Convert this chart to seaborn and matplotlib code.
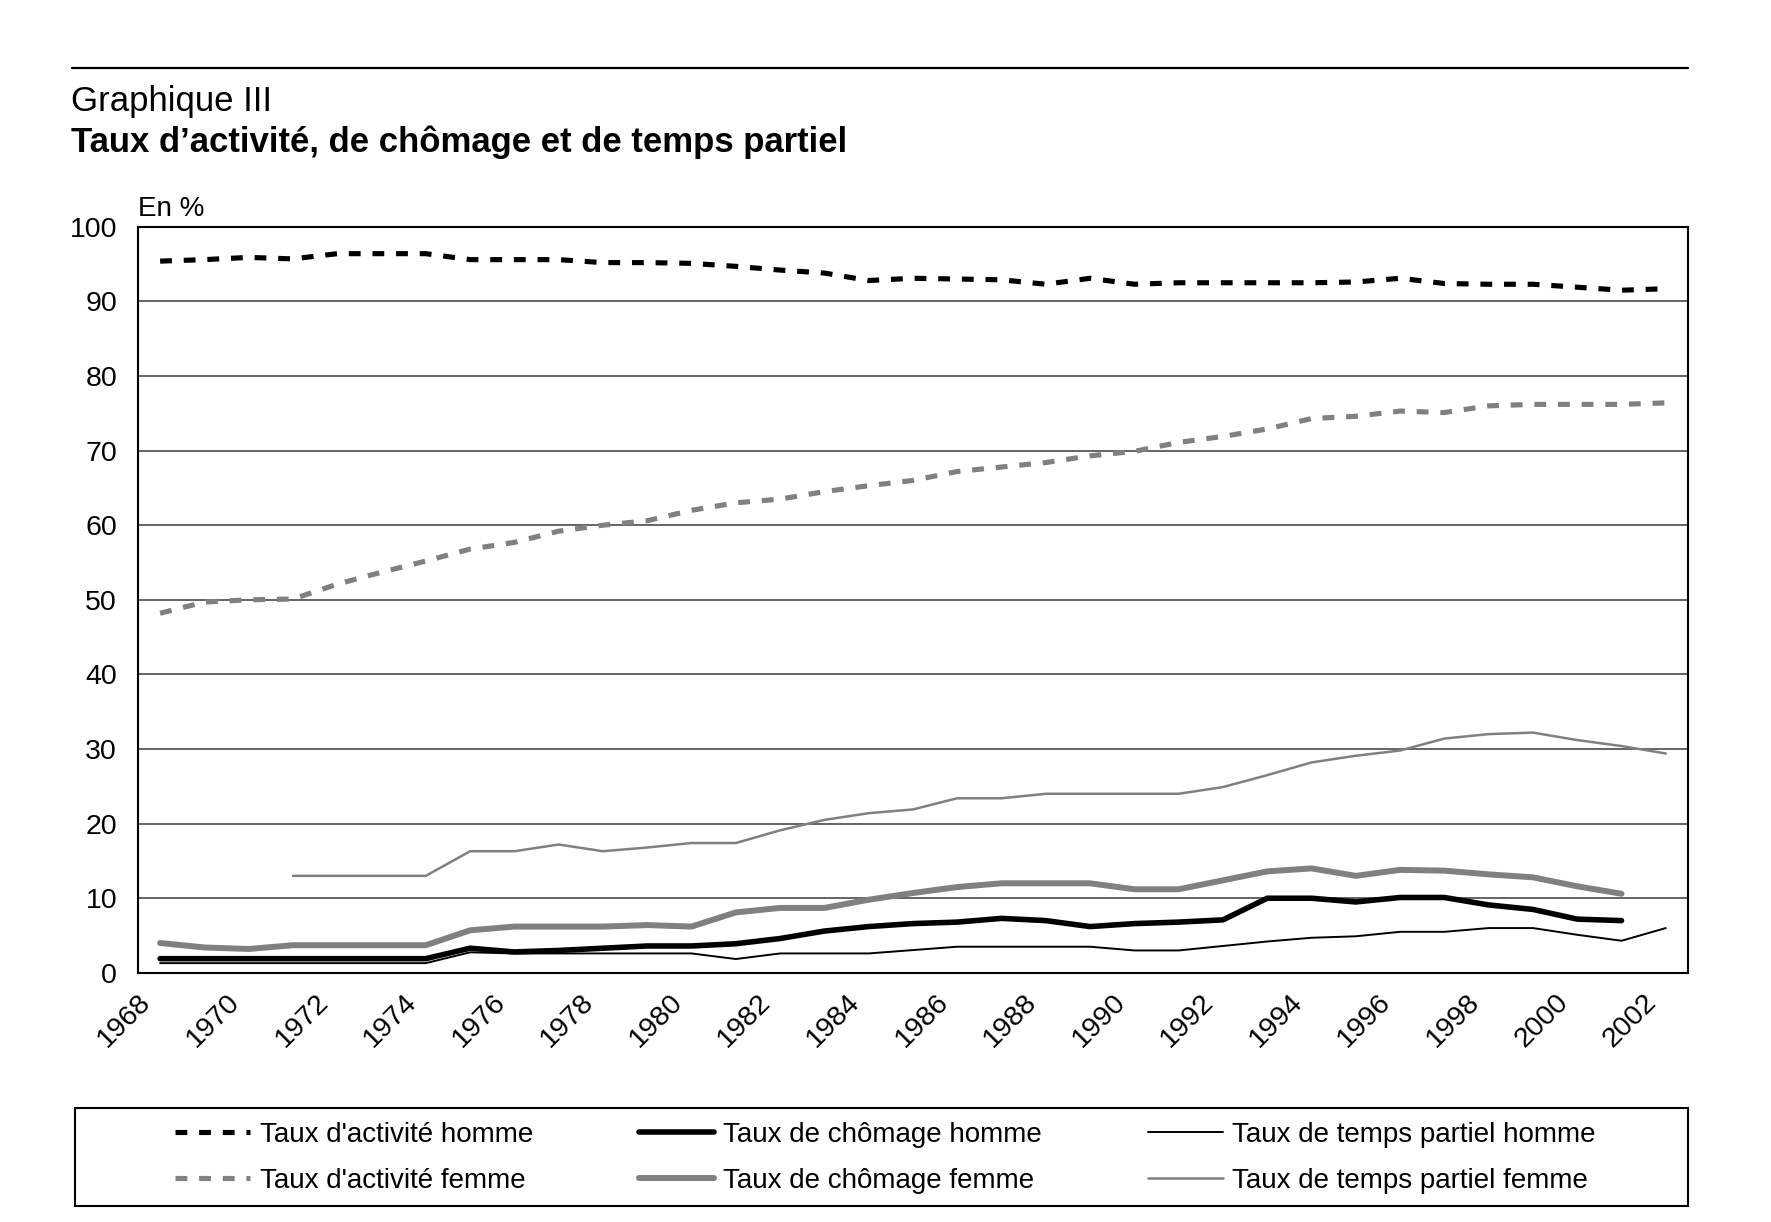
import numpy as np
import pandas as pd
import seaborn as sns
import matplotlib.pyplot as plt
from matplotlib.lines import Line2D
from matplotlib.patches import Rectangle

# %%
# values (one point per year, NaN = no data)
years = list(range(1968, 2003))

act_homme = [95.4, 95.6, 95.9, 95.7, 96.4, 96.4, 96.4, 95.6, 95.6, 95.6,
             95.2, 95.2, 95.1, 94.7, 94.2, 93.8, 92.8, 93.1, 93.0, 92.9,
             92.3, 93.1, 92.3, 92.5, 92.5, 92.5, 92.5, 92.6, 93.1, 92.4,
             92.3, 92.3, 91.9, 91.5, 91.7]
act_femme = [48.2, 49.7, 50.0, 50.1, 52.1, 53.7, 55.2, 56.8, 57.7, 59.2,
             60.0, 60.6, 62.0, 63.0, 63.5, 64.5, 65.3, 66.0, 67.2, 67.8,
             68.4, 69.3, 69.9, 71.1, 71.9, 72.9, 74.3, 74.6, 75.3, 75.1,
             76.0, 76.2, 76.2, 76.2, 76.4]
cho_homme = [1.9, 1.9, 1.9, 1.9, 1.9, 1.9, 1.9, 3.3, 2.8, 3.0,
             3.3, 3.6, 3.6, 3.9, 4.6, 5.6, 6.2, 6.6, 6.8, 7.3,
             7.0, 6.2, 6.6, 6.8, 7.1, 10.0, 10.0, 9.5, 10.1, 10.1,
             9.1, 8.5, 7.2, 7.0, np.nan]
cho_femme = [4.0, 3.4, 3.2, 3.7, 3.7, 3.7, 3.7, 5.7, 6.2, 6.2,
             6.2, 6.4, 6.2, 8.1, 8.7, 8.7, 9.8, 10.7, 11.5, 12.0,
             12.0, 12.0, 11.2, 11.2, 12.4, 13.6, 14.0, 13.0, 13.8, 13.7,
             13.2, 12.8, 11.6, 10.6, np.nan]
tp_homme = [1.3, 1.3, 1.3, 1.3, 1.3, 1.3, 1.3, 2.75, 2.6, 2.6,
            2.6, 2.6, 2.6, 1.85, 2.6, 2.6, 2.6, 3.05, 3.5, 3.5,
            3.5, 3.5, 3.0, 3.0, 3.6, 4.2, 4.7, 4.9, 5.5, 5.5,
            6.0, 6.0, 5.1, 4.3, 6.0]
tp_femme = [np.nan, np.nan, np.nan, 13.0, 13.0, 13.0, 13.0, 16.3, 16.3, 17.2,
            16.3, 16.8, 17.4, 17.4, 19.1, 20.5, 21.4, 21.9, 23.4, 23.4,
            24.0, 24.0, 24.0, 24.0, 24.9, 26.5, 28.2, 29.1, 29.8, 31.4,
            32.0, 32.2, 31.2, 30.4, 29.4]

labels = ["Taux d'activité homme", "Taux d'activité femme",
          "Taux de chômage homme", "Taux de chômage femme",
          "Taux de temps partiel homme", "Taux de temps partiel femme"]

# %%
sns.set_theme(style="white")
plt.rcParams["font.family"] = ["Liberation Sans", "DejaVu Sans"]
plt.rcParams.update({"text.color": "black", "axes.labelcolor": "black",
                     "xtick.color": "black", "ytick.color": "black"})

GRAY = "#808080"
dash = (0, (2.3, 2.3))
styles = [
    dict(color="black", lw=3.7, linestyle=dash),
    dict(color=GRAY, lw=3.7, linestyle=dash),
    dict(color="black", lw=4.0),
    dict(color=GRAY, lw=4.3),
    dict(color="black", lw=1.4),
    dict(color=GRAY, lw=1.8),
]
series = [act_homme, act_femme, cho_homme, cho_femme, tp_homme, tp_femme]

fig = plt.figure(figsize=(17.71, 12.22), dpi=100)
ax = fig.add_axes([0.0779, 0.2039, 0.8752, 0.6105])

# points sit in the middle of each year slot, like the original category axis
x = np.array(years) + 0.5
for vals, lab, st in zip(series, labels, styles):
    sns.lineplot(x=x, y=vals, ax=ax, label=lab, **st)

if ax.get_legend():
    ax.get_legend().remove()

ax.set_xlim(1968, 2003)
ax.set_ylim(0, 100)
ax.set_yticks(range(0, 101, 10))
ax.yaxis.grid(True, color="#3a3a3a", lw=1.1)
ax.set_axisbelow(True)
for sp in ax.spines.values():
    sp.set_color("black")
    sp.set_linewidth(1.5)

ax.set_xticks(range(1968, 2004))
ax.set_xticklabels([str(y) if y % 2 == 0 and y < 2003 else "" for y in range(1968, 2004)],
                   rotation=45, ha="right", va="top", rotation_mode="anchor")
ax.tick_params(axis="both", direction="out", length=6, width=1.3, color="black",
               labelsize=20.5, labelcolor="black")
ax.tick_params(axis="y", pad=9)
ax.tick_params(axis="x", pad=6)
ax.set_xlabel("")
ax.set_ylabel("")

# titles and unit
right = 0.0779 + 0.8752
fig.add_artist(Line2D([0.0407, right], [0.9444, 0.9444], color="black", lw=1.6))
fig.text(0.0400, 0.9092, "Graphique III", fontsize=25, va="baseline", ha="left")
fig.text(0.0400, 0.8756, "Taux d\u2019activité, de chômage et de temps partiel",
         fontsize=25, fontweight="bold", va="baseline", ha="left")
fig.text(0.0779, 0.8236, "En %", fontsize=20, va="baseline", ha="left")

# legend in a framed box below the plot
handles, labs = ax.get_legend_handles_labels()
fig.legend(handles, labs, ncol=3, loc="center", bbox_to_anchor=(0.5, 0.0525),
           frameon=False, fontsize=20, handlelength=2.7, handletextpad=0.35,
           columnspacing=3.8, labelspacing=0.7)
fig.add_artist(Rectangle((0.0423, 0.013), right - 0.0423, 0.0802,
                         transform=fig.transFigure,
                         fill=False, edgecolor="black", lw=1.5))

plt.savefig("out.png", dpi=100, facecolor="white")
